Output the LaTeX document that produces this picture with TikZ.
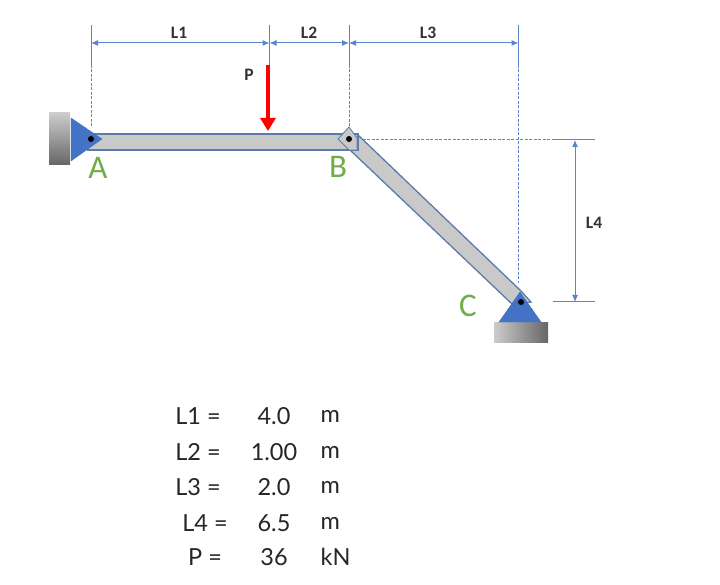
\documentclass[tikz,border=0pt]{standalone}
\usepackage{fontspec}
\setmainfont{Carlito}
\newfontfamily\tablefont{Lato}
\usetikzlibrary{arrows.meta}
\usetikzlibrary{positioning}
\definecolor{dimblue}{HTML}{5B86CC}
\definecolor{pinblue}{HTML}{4472C4}
\definecolor{beamgray}{HTML}{C9C9C9}
\definecolor{beamedge}{HTML}{5B7BA8}
\definecolor{jointgreen}{HTML}{70AD47}
\tikzset{
    dimline/.style={dimblue, line width=1pt, {Latex[length=7pt,width=6pt]}-{Latex[length=7pt,width=6pt]}},
    extline/.style={dimblue, line width=1pt},
    dashline/.style={dimblue, line width=1pt, dash pattern=on 3pt off 1.5pt},
    beam/.style={fill=beamgray, draw=beamedge, line width=1.3pt},
    support/.style={fill=pinblue, draw=pinblue},
    pin/.style={circle, fill=black, inner sep=0pt, minimum size=6pt},
    joint/.style={text=jointgreen, font=\fontsize{33}{33}\selectfont, inner sep=0pt},
    dimlabel/.style={font=\fontsize{17.5}{17.5}\selectfont\bfseries, text=black!80, inner sep=0pt},
    tabletext/.style={font=\tablefont\fontsize{23.5}{23.5}\selectfont, text=black!85, inner sep=0pt},
}
\begin{document}
\begin{tikzpicture}[x=1pt,y=-1pt]
    \useasboundingbox (0,0) rectangle (720,585);
    % reference points
    \coordinate (a_top) at (91,25);
    \coordinate (a_mid) at (91,65);
    \coordinate (a_low) at (91,126);
    \coordinate (p_top) at (269.5,25);
    \coordinate (p_mid) at (269.5,65);
    \coordinate (b_top) at (349,25);
    \coordinate (b_mid) at (349,65);
    \coordinate (b_low) at (349,127);
    \coordinate (c_top) at (518.5,25);
    \coordinate (c_mid) at (518.5,65);
    \coordinate (c_low) at (518.5,283);
    \coordinate (d1) at (91,43);
    \coordinate (d2) at (269.5,43);
    \coordinate (d3) at (349,43);
    \coordinate (d4) at (518.5,43);
    \coordinate (h_start) at (358,140);
    \coordinate (h_mid) at (555,140);
    \coordinate (h_end) at (595,140);
    \coordinate (k_start) at (553,302);
    \coordinate (k_end) at (595,302);
    \coordinate (v_top) at (575,140);
    \coordinate (v_low) at (575,302);
    \coordinate (f_top) at (268,65);
    \coordinate (f_low) at (268,131);

    % extension lines
    \draw[extline] (a_top) -- (a_mid);
    \draw[extline] (p_top) -- (p_mid);
    \draw[extline] (b_top) -- (b_mid);
    \draw[extline] (c_top) -- (c_mid);
    \draw[dashline] (a_mid) -- (a_low);
    \draw[dashline] (b_mid) -- (b_low);
    \draw[dashline] (c_mid) -- (c_low);
    \draw[dashline] (h_start) -- (h_mid);
    \draw[extline] (h_mid) -- (h_end);
    \draw[extline] (k_start) -- (k_end);

    % dimensions
    \draw[dimline] (d1) -- (d2);
    \draw[dimline] (d2) -- (d3);
    \draw[dimline] (d3) -- (d4);
    \draw[dimline] (v_top) -- (v_low);
    \node[dimlabel] (l_1) at (179,33) {L1};
    \node[dimlabel] (l_2) at (309,33) {L2};
    \node[dimlabel] (l_3) at (428,33) {L3};
    \node[dimlabel] (l_4) at (594,223) {L4};
    \node[dimlabel] (l_p) at (249,75) {P};

    % members
    \draw[beam] (350,150) -- (512,304) -- (531,302) -- (521,291) -- (358,135) -- cycle;
    \draw[beam] (88,134) rectangle (358,150);
    \draw[fill=beamgray, draw=beamedge, line width=0.8pt] (349,127) -- (338,139) -- (349,150) -- (357,150) -- (357,138) -- cycle;

    % supports
    \shade[top color=black!20, bottom color=black!60] (49,113) rectangle (70,165);
    \shade[left color=black!20, right color=black!60] (494,322) rectangle (548,342);
    \node[pin] (pin_b) at (349,139) {};
    \draw[support] (71,118) -- (71,161) -- (102,139) -- cycle;
    \draw[support] (520,292) -- (499,322) -- (541,322) -- cycle;
    \node[pin] (pin_a) at (91,139) {};
    \node[pin] (pin_c) at (521,302) {};

    % load
    \draw[red, line width=4.5pt, -{Triangle[length=13pt,width=15pt]}] (f_top) -- (f_low);

    % joints
    \node[joint] (lbl_a) at (98,168) {A};
    \node[joint] (lbl_b) at (338,167) {B};
    \node[joint] (lbl_c) at (468,306) {C};

    % values
    \foreach \nm/\xx/\yy/\val/\un in {
        L1 =/198/416/4.0/m,
        L2 =/198/452/1.00/m,
        L3 =/198/487/2.0/m,
        L4 =/205/523/6.5/m,
        P =/205/557/36/kN}
    {
        \node[tabletext] at (\xx,\yy) {\nm};
        \node[tabletext] at (274,\yy) {\val};
        \node[tabletext, anchor=west] at (320.5,\yy) {\un};
    }
\end{tikzpicture}
\end{document}
